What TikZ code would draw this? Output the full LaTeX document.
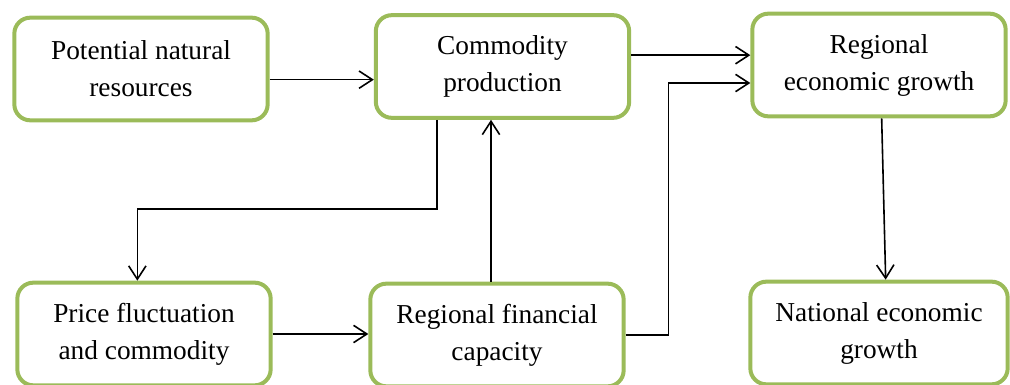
\documentclass[tikz,border=0pt]{standalone}
\usepackage{fontspec}
\setmainfont{Liberation Serif}
\usepackage{xcolor}
\usetikzlibrary{arrows.meta,positioning,calc}
\definecolor{boxgreen}{RGB}{155,187,89}

\begin{document}
\begin{tikzpicture}[x=0.75pt, y=-0.75pt, >={Straight Barb[length=10pt,width=13pt]}]
  \tikzstyle{block}=[rectangle, draw=boxgreen, line width=3pt, rounded corners=12pt, minimum width=190pt, minimum height=77pt, align=center, font=\fontsize{20.5}{27.75}\selectfont]
  \tikzstyle{link}=[->, line width=1.2pt]

  \useasboundingbox (0,0) rectangle (1010,385);

  \node[block] (pnr) at (141,69) {Potential natural\\resources};
  \node[block] (cp) at (502.5,66.5) {Commodity\\production};
  \node[block] (reg) at (879,65) {Regional\\economic growth};
  \node[block] (pfc) at (144,334) {Price fluctuation\\and commodity};
  \node[block] (rfc) at (497,335) {Regional financial\\capacity};
  \node[block, minimum width=193pt] (neg) at (879,333) {National economic\\growth};

  % resources feed production
  \draw[link] ([yshift=-8pt]pnr.east) -- ([yshift=-8pt]pnr.east -| cp.west);
  % production to regional growth
  \draw[link] ([yshift=8.5pt]cp.east) -- ([yshift=8.5pt]cp.east -| reg.west);
  % production drives prices
  \draw[link] ([xshift=-49pt]cp.south) -- ++(0,-67pt) -| ([xshift=-5pt]pfc.north);
  % prices to financial capacity
  \draw[link] (pfc.east) -- (pfc.east -| rfc.west);
  % financial capacity back to production
  \draw[link] ([xshift=-4.5pt]rfc.north) -- ([xshift=-4.5pt]rfc.north |- cp.south);
  % financial capacity to regional growth
  \draw[link] (rfc.east) -- ++(32pt,0) |- ([yshift=-13.5pt]reg.west);
  % regional growth to national growth
  \draw[link] ([xshift=2pt]reg.south) -- ([xshift=5pt]neg.north);
\end{tikzpicture}
\end{document}
